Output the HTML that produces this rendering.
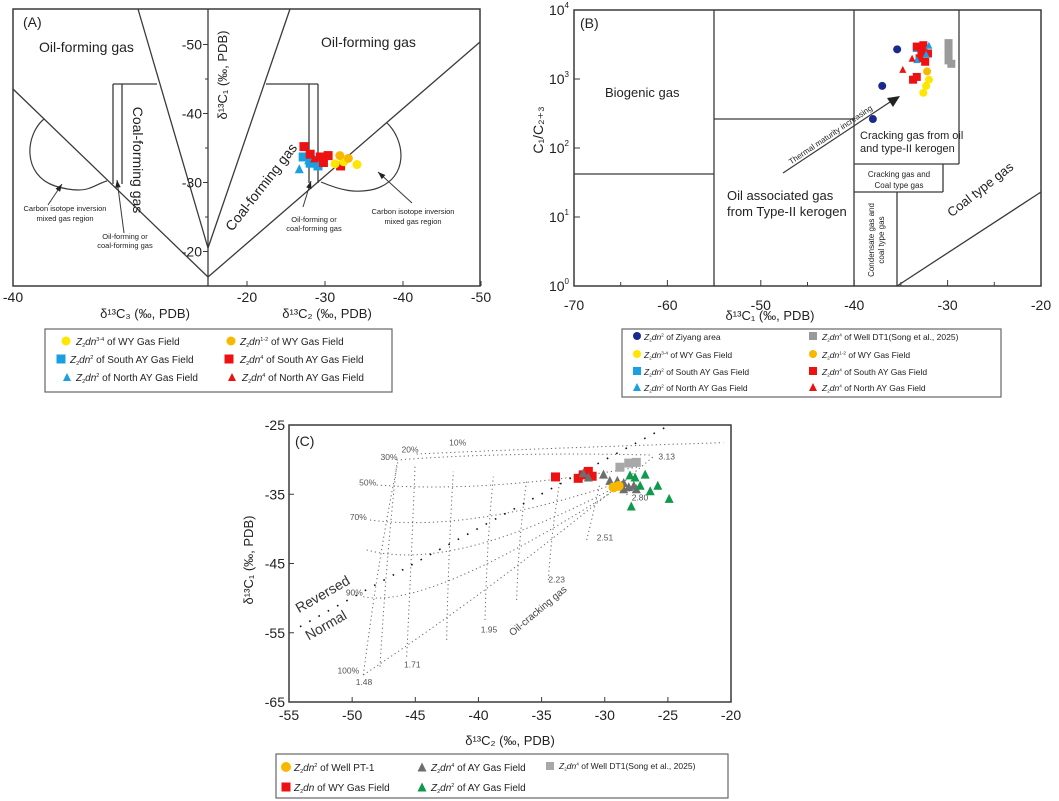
<!DOCTYPE html>
<html><head><meta charset="utf-8"><style>
html,body{margin:0;padding:0;background:#fff}
svg{display:block;font-family:"Liberation Sans",Arial,sans-serif}
</style></head><body>
<svg id="fig" width="1059" height="801" viewBox="0 0 1059 801" xmlns="http://www.w3.org/2000/svg">
<g id="gA"></g>
<g id="gB"></g>
<g id="gC"></g>
</svg>
<script>
// ---------- data ----------
// Panel A: [dC2, dC1]
const aYellow=[[-31.3,-32.7],[-34.1,-32.6],[-32.4,-33.0]];
const aOrange=[[-31.9,-33.9],[-33.0,-33.5]];
const aBlueSq=[[-27.2,-33.7],[-28.1,-32.8],[-29.1,-32.4],[-28.6,-33.2]];
const aRedSq=[[-27.3,-35.2],[-28.1,-34.1],[-29.4,-33.7],[-30.4,-33.9],[-32.0,-32.4],[-29.8,-32.9]];
const aBlueTri=[[-26.7,-32.0],[-28.9,-32.8],[-27.9,-33.3]];
const aRedTri=[[-28.6,-33.5]];
const aXTicksL=[-40,-30,-20];
const aXTicksR=[-20,-30,-40,-50];
const aYTicks=[-50,-40,-30,-20];
// Panel B: [dC1, log10(C1/C2+3)]
const bNavy=[[-35.4,3.43],[-37.0,2.90],[-38.0,2.42]];
const bGray=[[-29.9,3.52],[-29.9,3.37],[-29.9,3.27],[-29.6,3.22],[-29.9,3.45]];
const bYellow=[[-32.6,2.80],[-32.3,2.90],[-32.0,2.99]];
const bOrange=[[-32.2,3.11]];
const bBlueSq=[[-33.3,3.45],[-32.6,3.40]];
const bRedSq=[[-33.3,3.47],[-32.8,3.40],[-32.6,3.49],[-33.7,2.99],[-33.3,3.03],[-32.4,3.25],[-32.1,3.37],[-33.0,3.30]];
const bBlueTri=[[-32.0,3.49],[-32.3,3.36],[-33.3,3.28]];
const bRedTri=[[-34.8,3.14],[-33.8,3.30]];
const bXTicks=[-70,-60,-50,-40,-30,-20];
const bYTicks=[0,1,2,3,4];
// Panel C: [dC2, dC1]
const cOrange=[[-29.3,-34.0],[-28.9,-33.8]];
const cRedSq=[[-33.9,-32.5],[-32.1,-32.7],[-31.7,-32.2],[-31.3,-31.7],[-31.0,-32.4]];
const cGrayTri=[[-31.7,-31.9],[-31.3,-32.5],[-30.1,-32.1],[-29.6,-33.0],[-29.0,-33.0],[-28.5,-33.3],[-28.1,-33.9],[-27.7,-33.7],[-27.5,-34.2],[-28.5,-34.2]];
const cGraySq=[[-28.8,-31.1],[-28.1,-30.5],[-27.5,-30.4]];
const cGreenTri=[[-28.0,-32.2],[-27.6,-32.5],[-26.8,-32.1],[-27.2,-33.7],[-26.4,-34.5],[-25.8,-33.7],[-24.9,-35.6],[-27.9,-36.7]];
const cXTicks=[-55,-50,-45,-40,-35,-30,-25,-20];
const cYTicks=[-25,-35,-45,-55,-65];

const NS="http://www.w3.org/2000/svg";
function el(parent,tag,attrs,text){const e=document.createElementNS(NS,tag);for(const k in attrs)e.setAttribute(k,attrs[k]);if(text!==undefined)e.textContent=text;parent.appendChild(e);return e;}
function mark(g,shape,x,y,color,s){
  let e;
  if(shape==='c'){e=el(g,'circle',{cx:x,cy:y,r:s/2,fill:color});}
  else if(shape==='s'){e=el(g,'rect',{x:x-s/2,y:y-s/2,width:s,height:s,fill:color});}
  else {e=el(g,'polygon',{points:`${x},${y-s/2} ${x-s/2},${y+s/2} ${x+s/2},${y+s/2}`,fill:color});}
  return e;
}
function line(g,x1,y1,x2,y2,w,extra){return el(g,'line',Object.assign({x1,y1,x2,y2,stroke:'#3a3a3a','stroke-width':w||1.3},extra||{}));}
function txt(g,x,y,s,size,extra){return el(g,'text',Object.assign({x,y,'font-size':size,fill:'#222'},extra||{}),s);}
function zdn(g,x,y,sup,rest,size){
  const t=el(g,'text',{x,y,'font-size':size,fill:'#222'});
  const a=document.createElementNS(NS,'tspan');a.setAttribute('font-style','italic');a.textContent='Z';t.appendChild(a);
  const b=document.createElementNS(NS,'tspan');b.setAttribute('font-size',size*0.55);b.setAttribute('dy',size*0.2);b.textContent='2';t.appendChild(b);
  const c=document.createElementNS(NS,'tspan');c.setAttribute('font-style','italic');c.setAttribute('dy',-size*0.2);c.textContent='dn';t.appendChild(c);
  if(sup){const d=document.createElementNS(NS,'tspan');d.setAttribute('font-size',size*0.55);d.setAttribute('dy',-size*0.4);d.textContent=sup;t.appendChild(d);
    const e=document.createElementNS(NS,'tspan');e.setAttribute('dy',size*0.4);e.textContent=rest;t.appendChild(e);}
  else{const e=document.createElementNS(NS,'tspan');e.textContent=rest;t.appendChild(e);}
  return t;
}
const YEL='#ffe600',ORA='#f9b800',BLU='#1aa0e0',RED='#ee1111',NAV='#1a2a8c',GRY='#9a9a9a',DGR='#6e6e6e',GRN='#0e9a4a';

// ---------- Panel A ----------
(function(){
const g=document.getElementById('gA');
const xl=v=>13+(v+40)*(-7.8);      // left half dC3
const xr=v=>208+(-15-v)*7.8;        // right half dC2
const y=v=>286-(-15-v)*6.9;
const frame=el(g,'rect',{x:13,y:9,width:467,height:277,fill:'none',stroke:'#3a3a3a','stroke-width':1.5});

line(g,208,9,208,286,1.3);
line(g,13,89,208,277);line(g,208,277,480,42);
line(g,138,9,208,248);line(g,290,9,208,248);
line(g,113,84,157,84);line(g,113,84,113,184);line(g,122,84,122,184);
line(g,266,84,318,84);line(g,309,84,309,183);line(g,318,84,318,183);
el(g,'path',{d:'M44,119 C25,135 22,175 55,186 C75,192 85,190 90,188 C96,186 102,182 107,181',fill:'none',stroke:'#3a3a3a','stroke-width':1.2});
el(g,'path',{d:'M387,123 C405,140 410,178 375,189 C355,194 340,190 321,182',fill:'none',stroke:'#3a3a3a','stroke-width':1.2});
// arrows
function arrow(x1,y1,x2,y2){line(g,x1,y1,x2,y2,1);const a=Math.atan2(y2-y1,x2-x1),L=8;
 el(g,'polygon',{points:`${x2},${y2} ${x2-L*Math.cos(a-0.35)},${y2-L*Math.sin(a-0.35)} ${x2-L*Math.cos(a+0.35)},${y2-L*Math.sin(a+0.35)}`,fill:'#222'});}
arrow(48,205,62,184);arrow(124,233,117,180);arrow(303,207,311,181);arrow(412,203,378,172);
// axes ticks
aXTicksL.forEach(v=>{line(g,xl(v),286,xl(v),281,1);txt(g,xl(v),302,String(v),14,{'text-anchor':'middle'});});
aXTicksR.forEach(v=>{line(g,xr(v),286,xr(v),281,1);txt(g,xr(v),302,String(v),14,{'text-anchor':'middle'});});
aYTicks.forEach(v=>{line(g,203,y(v),208,y(v),1);txt(g,202,y(v)+5,String(v),14,{'text-anchor':'end'});});
[-45,-35,-25].forEach(v=>line(g,205,y(v),208,y(v),1));
txt(g,145,318,'δ¹³C₃ (‰, PDB)',13,{'text-anchor':'middle'});
txt(g,327,318,'δ¹³C₂ (‰, PDB)',13,{'text-anchor':'middle'});
txt(g,0,0,'δ¹³C₁ (‰, PDB)',13,{'text-anchor':'middle',transform:'translate(227,75) rotate(-90)'});
txt(g,23,27,'(A)',14);
txt(g,39,52,'Oil-forming gas',14);txt(g,321,47,'Oil-forming gas',14);
txt(g,0,0,'Coal-forming gas',14,{'text-anchor':'middle',transform:'translate(133,160) rotate(90)'});
txt(g,0,0,'Coal-forming gas',14,{'text-anchor':'middle',transform:'translate(265,190) rotate(-52)'});
txt(g,65,211,'Carbon isotope inversion',7.5,{'text-anchor':'middle'});txt(g,65,221,'mixed gas region',7.5,{'text-anchor':'middle'});
txt(g,125,239,'Oil-forming or',7.5,{'text-anchor':'middle'});txt(g,125,248,'coal-forming gas',7.5,{'text-anchor':'middle'});
txt(g,314,222,'Oil-forming or',7.5,{'text-anchor':'middle'});txt(g,314,231,'coal-forming gas',7.5,{'text-anchor':'middle'});
txt(g,413,214,'Carbon isotope inversion',7.5,{'text-anchor':'middle'});txt(g,413,224,'mixed gas region',7.5,{'text-anchor':'middle'});
// data
aBlueSq.forEach(d=>{const m=mark(g,'s',xr(d[0]),y(d[1]),BLU,9);});
aBlueTri.forEach(d=>{const m=mark(g,'t',xr(d[0]),y(d[1]),BLU,9);});
aRedSq.forEach(d=>{const m=mark(g,'s',xr(d[0]),y(d[1]),RED,9);});
aRedTri.forEach(d=>{const m=mark(g,'t',xr(d[0]),y(d[1]),RED,8);});
aYellow.forEach(d=>{const m=mark(g,'c',xr(d[0]),y(d[1]),YEL,9);});
aOrange.forEach(d=>{const m=mark(g,'c',xr(d[0]),y(d[1]),ORA,9);});
// legend
const lg=el(g,'g',{});
el(lg,'rect',{x:45,y:329,width:347,height:63,fill:'#fff',stroke:'#666','stroke-width':1.2});
mark(lg,'c',66,341,YEL,9);zdn(lg,76,345,'3-4',' of WY Gas Field',10);
mark(lg,'c',231,341,ORA,9);zdn(lg,240,345,'1-2',' of WY Gas Field',10);
mark(lg,'s',61,359,BLU,9);zdn(lg,70,363,'2',' of South AY Gas Field',10);
mark(lg,'s',229,359,RED,9);zdn(lg,240,363,'4',' of South AY Gas Field',10);
mark(lg,'t',67,377,BLU,8);zdn(lg,76,381,'2',' of North AY Gas Field',10);
mark(lg,'t',232,377,RED,8);zdn(lg,242,381,'4',' of North AY Gas Field',10);
})();

// ---------- Panel B ----------
(function(){
const g=document.getElementById('gB');
const x=v=>574+(v+70)*9.34;
const y=v=>286-v*69;
const fr=el(g,'rect',{x:574,y:10,width:467,height:276,fill:'none',stroke:'#3a3a3a','stroke-width':1.5});

line(g,714,10,714,286);line(g,574,174,714,174);line(g,714,119,854,119);
line(g,854,10,854,286);line(g,959,10,959,164);line(g,854,164,959,164);
line(g,943,164,943,192);line(g,854,192,943,192);line(g,897,192,897,286);
line(g,897,286,1041,192);
line(g,783,173,893,100,1.2);
el(g,'polygon',{points:'900,96 887,98 893,107',fill:'#222'});
bXTicks.forEach(v=>{line(g,x(v),286,x(v),280,1);txt(g,x(v),310,String(v),14,{'text-anchor':'middle'});});
[-65,-55,-45,-35,-25].forEach(v=>line(g,x(v),286,x(v),282,1));
bYTicks.forEach(v=>{line(g,574,y(v),580,y(v),1);const t=txt(g,569,y(v)+5,'10',14,{'text-anchor':'end'});
 const s=document.createElementNS(NS,'tspan');s.setAttribute('font-size',8);s.setAttribute('dy',-7);s.textContent=String(v);t.appendChild(s);});
txt(g,770,320,'δ¹³C₁ (‰, PDB)',13,{'text-anchor':'middle'});
txt(g,0,0,'C₁/C₂₊₃',14,{'text-anchor':'middle',transform:'translate(543,130) rotate(-90)'});
txt(g,580,28,'(B)',14);
txt(g,605,97,'Biogenic gas',13);
txt(g,727,200,'Oil associated gas',13);txt(g,727,216,'from Type-II kerogen',13);
txt(g,860,139,'Cracking gas from oil',11);txt(g,860,152,'and type-II kerogen',11);
txt(g,899,177,'Cracking gas and',8,{'text-anchor':'middle'});txt(g,899,188,'Coal type gas',8,{'text-anchor':'middle'});
txt(g,0,0,'Condensate gas and',8,{'text-anchor':'middle',transform:'translate(874,240) rotate(-90)'});
txt(g,0,0,'coal type gas',8,{'text-anchor':'middle',transform:'translate(884,240) rotate(-90)'});
txt(g,0,0,'Thermal maturity increasing',8,{'text-anchor':'middle',transform:'translate(832,137) rotate(-34)'});
txt(g,0,0,'Coal type gas',13,{'text-anchor':'middle',transform:'translate(983,193) rotate(-38)'});
function pts(arr,sh,col,s,name){arr.forEach(d=>{const m=mark(g,sh,x(d[0]),y(d[1]),col,s);});}
pts(bGray,'s',GRY,8,'b-point-gray-square');pts(bNavy,'c',NAV,8,'b-point-navy');
pts(bBlueSq,'s',BLU,8,'b-point-blue-square');pts(bRedSq,'s',RED,8,'b-point-red-square');
pts(bBlueTri,'t',BLU,7,'b-point-blue-triangle');pts(bRedTri,'t',RED,7,'b-point-red-triangle');
pts(bYellow,'c',YEL,8,'b-point-yellow');pts(bOrange,'c',ORA,8,'b-point-orange');
const lg=el(g,'g',{});
el(lg,'rect',{x:622,y:329,width:379,height:68,fill:'#fff',stroke:'#666','stroke-width':1.2});
const rows=[[340,NAV,'c','2',' of Ziyang area',GRY,'s','4',' of Well DT1(Song et al., 2025)'],[358,YEL,'c','3-4',' of WY Gas Field',ORA,'c','1-2',' of WY Gas Field'],[375,BLU,'s','2',' of South AY Gas Field',RED,'s','4',' of South AY Gas Field'],[391,BLU,'t','2',' of North AY Gas Field',RED,'t','4',' of North AY Gas Field']];
rows.forEach(r=>{mark(lg,r[2],637,r[0]-4,r[1],8);zdn(lg,644,r[0],r[3],r[4],8.5);mark(lg,r[6],813,r[0]-4,r[5],8);zdn(lg,822,r[0],r[7],r[8],8.5);});
})();

// ---------- Panel C ----------
(function(){
const g=document.getElementById('gC');
const x=v=>289+(v+55)*12.63;
const y=v=>425+(-25-v)*6.925;
const zc=(a,b)=>[a/3+240,b/3+380];
const fr=el(g,'rect',{x:289,y:425,width:442,height:277,fill:'none',stroke:'#3a3a3a','stroke-width':1.5});

// dotted mixing grid (decorative)
const dot={fill:'none',stroke:'#666','stroke-width':1,'stroke-dasharray':'1.2,3'};
function pth(ps){let d='';ps.forEach((p,i)=>{const q=zc(p[0],p[1]);d+=(i?(i===1?' Q':' '):'M')+q[0]+','+q[1];});return d;}
[[[530,222],[900,205],[1450,188]],[[470,240],[800,215],[1230,225]],[[410,315],[750,340],[1200,260]],[[390,420],[700,460],[1160,300]],[[380,510],[640,580],[1130,320]],[[370,650],[560,690],[1110,340]]].forEach(c=>el(g,'path',Object.assign({d:pth(c)},dot)));
[[[370,885],[420,500],[475,240]],[[420,860],[440,520],[470,255]],[[500,830],[515,520],[525,260]],[[620,780],[625,520],[640,275]],[[735,720],[740,500],[760,290]],[[830,660],[835,480],[860,300]],[[925,600],[935,450],[960,300]],[[1040,480],[1060,400],[1080,310]],[[1160,345],[1170,330],[1180,310]]].forEach(c=>el(g,'path',Object.assign({d:pth(c)},dot)));
el(g,'path',Object.assign({d:pth([[370,885],[800,600],[1240,230]])},dot));
el(g,'path',Object.assign({d:pth([[180,740],[700,450],[1280,140]])},{fill:'none',stroke:'#111','stroke-width':1.6,'stroke-dasharray':'1.6,9'}));
// grid labels
[['10%',653,197],['20%',510,218],['30%',447,240],['50%',383,316],['70%',355,420],['90%',343,646],['100%',325,881],['1.48',372,915],['1.71',517,862],['1.95',747,757],['2.23',950,607],['2.51',1095,482],['2.80',1200,362],['3.13',1280,238]].forEach(l=>{const p=zc(l[1],l[2]);txt(g,p[0],p[1],l[0],8.5,{'text-anchor':'middle',fill:'#555'});});
txt(g,0,0,'Oil-cracking gas',10,{'text-anchor':'middle',transform:`translate(${zc(900,700)[0]},${zc(900,700)[1]}) rotate(-40)`,fill:'#444'});
txt(g,0,0,'Reversed',14,{'text-anchor':'middle',transform:`translate(${zc(255,655)[0]},${zc(255,655)[1]}) rotate(-30)`,fill:'#333'});
txt(g,0,0,'Normal',14,{'text-anchor':'middle',transform:`translate(${zc(265,748)[0]},${zc(265,748)[1]}) rotate(-30)`,fill:'#333'});
cXTicks.forEach(v=>{line(g,x(v),702,x(v),697,1);txt(g,x(v),720,String(v),14,{'text-anchor':'middle'});});
cYTicks.forEach(v=>{line(g,289,y(v),294,y(v),1);txt(g,285,y(v)+5,String(v),14,{'text-anchor':'end'});});
txt(g,510,745,'δ¹³C₂ (‰, PDB)',13,{'text-anchor':'middle'});
txt(g,0,0,'δ¹³C₁ (‰, PDB)',13,{'text-anchor':'middle',transform:'translate(253,560) rotate(-90)'});
txt(g,295,446,'(C)',14);
function pts(arr,sh,col,s,name){arr.forEach(d=>{const m=mark(g,sh,x(d[0]),y(d[1]),col,s);});}
pts(cGraySq,'s','#a8a8a8',9,'c-point-gray-square');pts(cRedSq,'s',RED,9,'c-point-red-square');
pts(cGrayTri,'t',DGR,9,'c-point-gray-triangle');pts(cOrange,'c',ORA,10,'c-point-orange');
pts(cGreenTri,'t',GRN,9,'c-point-green-triangle');
const lg=el(g,'g',{});
el(lg,'rect',{x:276,y:754,width:452,height:44,fill:'#fff',stroke:'#666','stroke-width':1.2});
mark(lg,'c',286,767,ORA,10);zdn(lg,294,771,'2',' of Well PT-1',10);
mark(lg,'t',422,767,DGR,9);zdn(lg,431,771,'4',' of AY Gas Field',10);
mark(lg,'s',550,766,'#a8a8a8',8);zdn(lg,559,769,'4',' of Well DT1(Song et al., 2025)',8.5);
mark(lg,'s',286,787,RED,9);zdn(lg,294,791,'',' of WY Gas Field',10);
mark(lg,'t',422,787,GRN,9);zdn(lg,431,791,'2',' of AY Gas Field',10);
})();
</script>
</body></html>
